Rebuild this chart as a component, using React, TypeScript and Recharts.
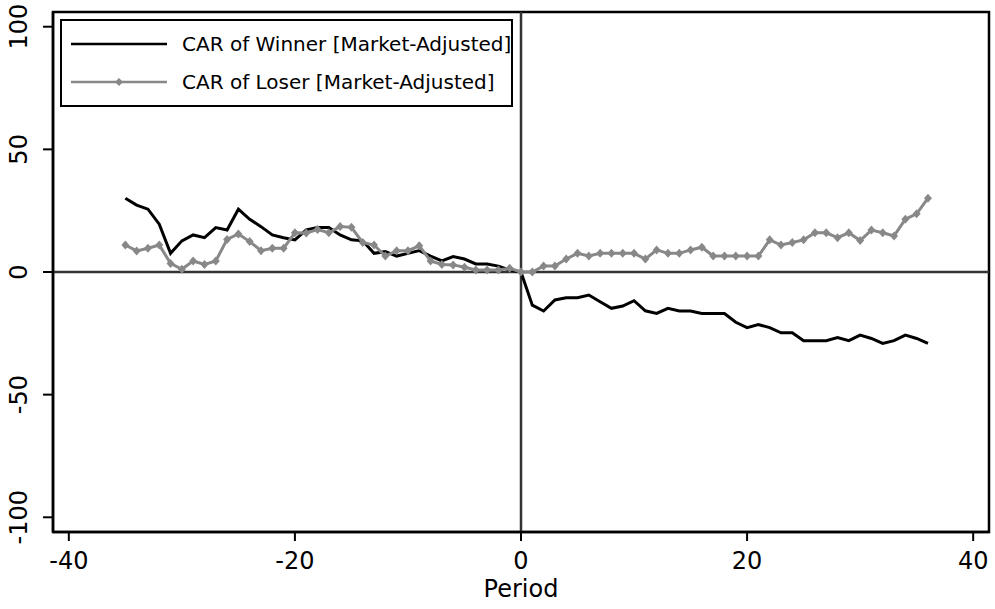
import React from 'react';
import { LineChart, Line, XAxis, YAxis, ReferenceLine, ReferenceArea, Legend, Label } from 'recharts';

const periods = [
  -35, -34, -33, -32, -31, -30, -29, -28, -27, -26, -25, -24, -23, -22, -21, -20, -19, -18,
  -17, -16, -15, -14, -13, -12, -11, -10, -9, -8, -7, -6, -5, -4, -3, -2, -1, 0,
  1, 2, 3, 4, 5, 6, 7, 8, 9, 10, 11, 12, 13, 14, 15, 16, 17, 18,
  19, 20, 21, 22, 23, 24, 25, 26, 27, 28, 29, 30, 31, 32, 33, 34, 35, 36,
];

const winnerCar = [
  30.1, 27.3, 25.6, 19.5, 7.6, 12.7, 15.1, 14.0, 18.1, 17.1, 25.6, 21.5, 18.5, 15.1, 14.0, 13.1, 17.2, 18.1,
  18.1, 15.1, 13.1, 12.7, 7.6, 8.3, 6.5, 7.6, 8.7, 6.5, 4.5, 6.3, 5.3, 3.3, 3.3, 2.4, 0.8, 0,
  -13.5, -15.9, -11.4, -10.5, -10.5, -9.4, -12.1, -14.8, -13.9, -11.7, -15.8, -16.9, -14.8, -15.9, -15.9, -16.9, -16.9, -16.9,
  -20.5, -22.7, -21.4, -22.7, -24.8, -24.8, -28.0, -28.0, -28.0, -26.7, -28.0, -25.7, -27.1, -29.1, -28.0, -25.7, -27.1, -29.1,
];

const loserCar = [
  11.0, 8.6, 9.7, 11.0, 3.5, 1.1, 4.5, 3.1, 4.5, 13.3, 15.5, 12.4, 8.7, 9.7, 9.7, 16.0, 15.9, 17.3,
  16.0, 18.5, 18.2, 12.0, 11.0, 6.5, 8.7, 8.7, 10.7, 4.5, 3.1, 2.9, 1.9, 0.8, 0.8, 0.8, 1.5, 0,
  0, 2.4, 2.4, 5.3, 7.6, 6.5, 7.6, 7.6, 7.6, 7.6, 5.3, 9.0, 7.6, 7.6, 9.0, 10.1, 6.5, 6.5,
  6.5, 6.5, 6.5, 13.1, 11.0, 12.0, 13.1, 16.0, 16.0, 14.0, 16.0, 12.8, 17.1, 16.0, 14.7, 21.5, 23.7, 30.1,
];

const xTicks = [-40, -20, 0, 20, 40];
const yTicks = [-100, -50, 0, 50, 100];
const legendOrder = ['winner', 'loser'];

const FONT = '"DejaVu Sans", sans-serif';
const GRAY = '#888888';

const data = periods.map((p, i) => ({ period: p, winner: winnerCar[i], loser: loserCar[i] }));

const Diamond = (props: any) => {
  const { cx, cy } = props;
  if (cx == null || cy == null) return null;
  return <path d={`M${cx},${cy - 4.5}L${cx + 4},${cy}L${cx},${cy + 4.5}L${cx - 4},${cy}Z`} fill={GRAY} />;
};

const XTick = (props: any) => {
  const { x, payload } = props;
  return (
    <text x={x} y={569} textAnchor="middle" fontSize={24} fontFamily={FONT} fill="#000">
      {payload.value}
    </text>
  );
};

const YTick = (props: any) => {
  const { y, payload } = props;
  return (
    <text x={27} y={y} transform={`rotate(-90, 27, ${y})`} textAnchor="middle" fontSize={24} fontFamily={FONT} fill="#000">
      {payload.value}
    </text>
  );
};

const LegendBox = (props: any) => {
  const items = [...(props.payload || [])].sort(
    (a: any, b: any) => legendOrder.indexOf(a.dataKey) - legendOrder.indexOf(b.dataKey)
  );
  return (
    <div
      style={{
        width: 453,
        height: 88,
        boxSizing: 'border-box',
        border: '2.5px solid #000',
        background: '#fff',
        position: 'relative',
      }}
    >
      {items.map((it: any, i: number) => {
        const isLoser = it.dataKey === 'loser';
        const color = isLoser ? GRAY : '#000';
        return (
          <div key={i} style={{ position: 'absolute', left: 0, top: 4 + i * 38, height: 38, display: 'flex', alignItems: 'center' }}>
            <svg width={120} height={38} style={{ display: 'block' }}>
              <line x1={9} x2={105} y1={19} y2={19} stroke={color} strokeWidth={2.5} />
              {isLoser && <path d="M57,15L61,19L57,23L53,19Z" fill={GRAY} />}
            </svg>
            <span style={{ fontFamily: FONT, fontSize: 20, color: '#000', whiteSpace: 'nowrap' }}>{it.value}</span>
          </div>
        );
      })}
    </div>
  );
};

export default function App() {
  return (
    <div style={{ position: 'absolute', left: 0, top: 0, width: 995, height: 609, background: '#fff' }}>
      <LineChart width={995} height={609} data={data} margin={{ top: 12, right: 6, left: 0, bottom: 0 }}>
        <XAxis
          dataKey="period"
          type="number"
          domain={[-41.4, 41.4]}
          ticks={xTicks}
          allowDataOverflow
          height={77}
          tickSize={9}
          tick={<XTick />}
          axisLine={{ stroke: '#000', strokeWidth: 2.5 }}
          tickLine={{ stroke: '#000', strokeWidth: 2 }}
        >
          <Label value="Period" position="insideBottom" offset={12} style={{ fontSize: 24, fontFamily: FONT, fill: '#000' }} />
        </XAxis>
        <YAxis
          type="number"
          domain={[-106, 106]}
          ticks={yTicks}
          allowDataOverflow
          width={53}
          tickSize={10}
          tick={<YTick />}
          axisLine={{ stroke: '#000', strokeWidth: 2.5 }}
          tickLine={{ stroke: '#000', strokeWidth: 2 }}
        />
        <ReferenceArea x1={-41.4} x2={41.4} y1={-106} y2={106} fill="none" stroke="#000" strokeWidth={2.5} fillOpacity={0} />
        <ReferenceLine y={0} stroke="#333" strokeWidth={2.5} />
        <ReferenceLine x={0} stroke="#333" strokeWidth={2.5} />
        <Legend
          layout="horizontal"
          verticalAlign="middle"
          align="center"
          content={<LegendBox />}
          wrapperStyle={{ left: 60, top: 19, width: 453, height: 88 }}
        />
        <Line
          name="CAR of Winner [Market-Adjusted]"
          dataKey="winner"
          stroke="#000"
          strokeWidth={3}
          dot={false}
          activeDot={false}
          isAnimationActive={false}
        />
        <Line
          name="CAR of Loser [Market-Adjusted]"
          dataKey="loser"
          stroke={GRAY}
          strokeWidth={3}
          dot={<Diamond />}
          activeDot={false}
          isAnimationActive={false}
        />
      </LineChart>
    </div>
  );
}
